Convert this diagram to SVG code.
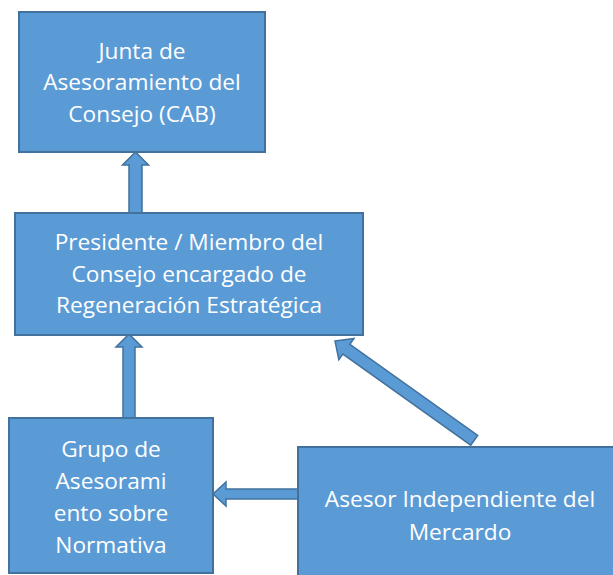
<svg xmlns="http://www.w3.org/2000/svg" width="613" height="575" viewBox="0 0 613 575">
<style>
.box{fill:#5B9BD5;stroke:#41719C;stroke-width:2}
.arr{fill:#5B9BD5;stroke:#41719C;stroke-width:1.5;stroke-linejoin:miter}
.t{font-family:"Open Sans","Liberation Sans",sans-serif;font-size:22.7px;fill:#FFFFFF;text-anchor:middle}
</style>
<g id="connectors">
<polygon class="arr" transform="translate(135.5,152)" points="0,0 13,13 6.5,13 6.5,61 -6.5,61 -6.5,13 -13,13"/>
<polygon class="arr" transform="translate(129,334)" points="0,0 13,13 6,13 6,84 -6,84 -6,13 -13,13"/>
<polygon class="arr" transform="translate(213,494) rotate(-90)" points="0,0 12,13 5,13 5,85 -5,85 -5,13 -12,13"/>
<polygon class="arr" transform="translate(335,341) rotate(-54.5)" points="0,0 13,14 6,14 6,171 -6,171 -6,14 -13,14"/>
</g>
<g id="cab">
<rect class="box" x="19" y="12" width="246" height="140"/>
<text class="t" x="142" y="59">Junta de</text>
<text class="t" x="142" y="90">Asesoramiento del</text>
<text class="t" x="142" y="122">Consejo (CAB)</text>
</g>
<g id="presidente">
<rect class="box" x="15" y="213" width="348" height="122"/>
<text class="t" x="189" y="250">Presidente / Miembro del</text>
<text class="t" x="189" y="282">Consejo encargado de</text>
<text class="t" x="189" y="313">Regeneración Estratégica</text>
</g>
<g id="grupo">
<rect class="box" x="9" y="418" width="204" height="155"/>
<text class="t" x="111" y="457">Grupo de</text>
<text class="t" x="111" y="489">Asesorami</text>
<text class="t" x="111" y="521">ento sobre</text>
<text class="t" x="111" y="553">Normativa</text>
</g>
<g id="asesor">
<rect class="box" x="298" y="447" width="330" height="140"/>
<text class="t" x="460" y="507">Asesor Independiente del</text>
<text class="t" x="460" y="540">Mercardo</text>
</g>
</svg>
